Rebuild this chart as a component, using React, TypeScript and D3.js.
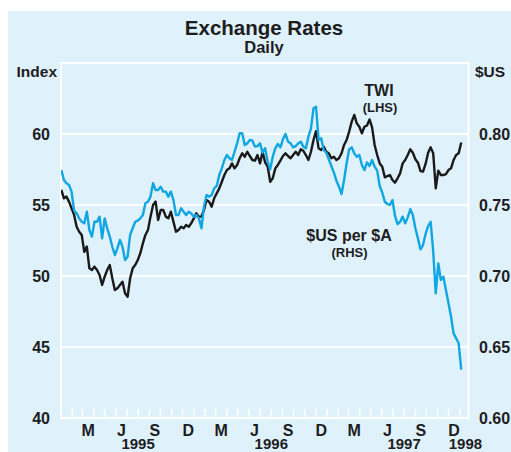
import React from "react";
import * as d3 from "d3";

// ---- Data (weekly samples, starting Mon 2 Jan 1995) ----
const seriesStart = "1995-01-02";

const twi = [
  56.06, 55.47, 55.59, 55.24, 54.77, 54.3, 53.47, 53.12, 52.89, 51.7,
  52.07, 50.54, 50.42, 50.66, 50.42, 50.07, 49.37, 49.95, 50.42, 50.77,
  49.84, 49.01, 49.13, 49.37, 49.6, 48.78, 48.54, 49.84, 50.54, 50.77,
  51.13, 51.6, 52.3, 52.89, 53.24, 54.18, 55.0, 55.24, 53.94, 54.65,
  54.65, 54.18, 54.06, 54.53, 53.83, 53.12, 53.24, 53.47, 53.36, 53.59,
  53.47, 53.71, 54.06, 54.41, 54.18, 54.18, 54.65, 55.35, 55.23, 54.88,
  55.47, 55.82, 56.17, 56.64, 57.11, 57.46, 57.58, 57.93, 57.58, 57.82,
  58.29, 58.64, 58.4, 58.75, 58.45, 58.17, 58.12, 58.52, 57.93, 58.75,
  58.0, 57.7, 56.64, 56.88, 57.58, 57.82, 58.12, 58.45, 58.64, 58.45,
  58.29, 58.52, 58.75, 58.52, 58.92, 58.82, 58.52, 58.17, 58.75, 59.58,
  60.2, 58.99, 58.87, 59.11, 58.75, 58.64, 58.29, 58.4, 58.17, 58.29,
  58.64, 59.23, 59.58, 60.17, 60.87, 61.34, 60.75, 60.51, 60.05, 60.51,
  60.6, 61.03, 60.47, 59.23, 58.52, 57.93, 57.7, 56.95, 57.04, 57.11,
  56.76, 56.57, 56.88, 57.23, 57.93, 58.17, 58.52, 58.92, 58.68, 58.22,
  57.98, 57.39, 57.35, 57.89, 58.68, 59.06, 58.64, 56.17, 57.42, 57.11,
  57.11, 57.18, 57.46, 57.58, 58.17, 58.52, 58.64, 59.4,
];

const usdPerAud = [
  0.7746, 0.7676, 0.7653, 0.7641, 0.7594, 0.746, 0.7441, 0.7406, 0.7382, 0.7371,
  0.7453, 0.7324, 0.7277, 0.7382, 0.7382, 0.7418, 0.7265, 0.7406, 0.7336, 0.7277,
  0.7206, 0.7148, 0.7195, 0.7254, 0.7206, 0.7113, 0.7136, 0.7289, 0.7336, 0.7382,
  0.739, 0.7406, 0.743, 0.7512, 0.7523, 0.7559, 0.7653, 0.7606, 0.7606, 0.7629,
  0.7594, 0.7594, 0.7559, 0.7594, 0.7535, 0.743, 0.743, 0.7477, 0.7453, 0.743,
  0.7453, 0.7441, 0.7418, 0.743, 0.7406, 0.7336, 0.7488, 0.757, 0.7559, 0.757,
  0.7617, 0.7634, 0.7711, 0.7758, 0.7817, 0.7852, 0.7829, 0.7817, 0.7875, 0.7934,
  0.8005, 0.8005, 0.7923, 0.7934, 0.7958, 0.7953, 0.7911, 0.7915, 0.7934, 0.7868,
  0.79, 0.7805, 0.7751, 0.784, 0.7899, 0.793, 0.7906, 0.7963, 0.8, 0.7946,
  0.7934, 0.7906, 0.7915, 0.7934, 0.7946, 0.7911, 0.7899, 0.7981, 0.804, 0.8181,
  0.8192, 0.7958, 0.797, 0.7887, 0.7868, 0.7822, 0.7775, 0.7728, 0.7671, 0.7629,
  0.7577, 0.7676, 0.7794, 0.7892, 0.7906, 0.7864, 0.784, 0.7852, 0.7782, 0.7746,
  0.78, 0.7775, 0.7817, 0.777, 0.7742, 0.7634, 0.7587, 0.7523, 0.7507, 0.75,
  0.7535, 0.7423, 0.7366, 0.7382, 0.7418, 0.7371, 0.7413, 0.747, 0.743, 0.7336,
  0.7265, 0.7188, 0.7218, 0.7296, 0.7352, 0.7382, 0.7171, 0.6878, 0.7089, 0.6972,
  0.6995, 0.6901, 0.6808, 0.6713, 0.6596, 0.6561, 0.6526, 0.634,
];

const leftTicks = [40, 45, 50, 55, 60];
const rightTicks = [0.6, 0.65, 0.7, 0.75, 0.8];
const quarterLabels: Record<number, string> = { 2: "M", 5: "J", 8: "S", 11: "D" };
const yearLabels = ["1995", "1996", "1997", "1998"];

const domainStart = new Date(1995, 0, 1);
const domainEnd = new Date(1998, 0, 25);

const W = 511;
const H = 452;
const M = { left: 61, right: 468.5, top: 63, bottom: 418 };

const FONT = "'Liberation Sans', Arial, Helvetica, sans-serif";
const TEXT = "#1d1d1f";
const BG = "#dff1fa";
const BLUE = "#10a6e2";
const BLACK = "#1a1a1a";

export default function App() {
  const x = d3.scaleTime().domain([domainStart, domainEnd]).range([M.left, M.right]);
  const yL = d3.scaleLinear().domain([40, 65]).range([M.bottom, M.top]);
  const yR = d3.scaleLinear().domain([0.6, 0.85]).range([M.bottom, M.top]);

  const start = d3.timeParse("%Y-%m-%d")(seriesStart) as Date;
  const dates = twi.map((_, i) => d3.timeDay.offset(start, 7 * i));

  const twiLine = d3
    .line<number>()
    .x((_, i) => x(dates[i]))
    .y((d) => yL(d))(twi);
  const usdLine = d3
    .line<number>()
    .x((_, i) => x(dates[i]))
    .y((d) => yR(d))(usdPerAud);

  const monthTicks = d3.timeMonth.range(d3.timeMonth.offset(domainStart, 1), domainEnd);
  const months = d3.timeMonth.range(domainStart, domainEnd);
  const monthCenter = (m: Date) => (x(m) + x(d3.timeMonth.offset(m, 1))) / 2;
  const qLabels = months
    .filter((m) => quarterLabels[m.getMonth()] !== undefined)
    .map((m) => ({ t: quarterLabels[m.getMonth()], cx: monthCenter(m), y: m.getFullYear() }));

  const yearPos = yearLabels.map((yl) => {
    const yr = +yl;
    const qs = qLabels.filter((q) => q.y === yr);
    if (qs.length) return { t: yl, cx: (qs[0].cx + qs[qs.length - 1].cx) / 2 };
    const ms = months.filter((m) => m.getFullYear() === yr);
    return { t: yl, cx: (monthCenter(ms[0]) + monthCenter(ms[ms.length - 1])) / 2 };
  });

  return (
    <svg
      width={W}
      height={H}
      style={{ position: "absolute", left: 0, top: 0, display: "block" }}
      fontFamily={FONT}
      fontWeight="bold"
    >
      <rect x={0} y={0} width={W} height={H} fill="#ffffff" />
      <rect x={8} y={11} width={W - 8} height={H - 11} fill={BG} />

      <text x={264} y={34.5} textAnchor="middle" fontSize={20.5} fill={TEXT}>
        Exchange Rates
      </text>
      <text x={264} y={52.5} textAnchor="middle" fontSize={16.5} fill={TEXT}>
        Daily
      </text>

      {/* gridlines */}
      {leftTicks.slice(1).map((t) => (
        <line key={t} x1={M.left} x2={M.right} y1={yL(t)} y2={yL(t)} stroke="#ffffff" strokeWidth={2} />
      ))}

      {/* month ticks */}
      {monthTicks.map((m, i) => (
        <line key={i} x1={x(m)} x2={x(m)} y1={M.bottom} y2={M.bottom - 9} stroke="#ffffff" strokeWidth={1.6} />
      ))}

      {/* frame */}
      <rect
        x={M.left}
        y={M.top}
        width={M.right - M.left}
        height={M.bottom - M.top}
        fill="none"
        stroke="#ffffff"
        strokeWidth={2}
      />

      <defs>
        <clipPath id="plotClip">
          <rect x={M.left} y={M.top} width={M.right - M.left} height={M.bottom - M.top} />
        </clipPath>
      </defs>

      <g clipPath="url(#plotClip)">
        <path d={twiLine || ""} fill="none" stroke={BLACK} strokeWidth={2.4} strokeLinejoin="round" />
        <path d={usdLine || ""} fill="none" stroke={BLUE} strokeWidth={2.4} strokeLinejoin="round" />
      </g>

      {/* axis labels */}
      {leftTicks.map((t) => (
        <text key={t} x={50} y={yL(t) + 5.8} textAnchor="end" fontSize={16} fill={TEXT}>
          {t}
        </text>
      ))}
      {rightTicks.map((t) => (
        <text key={t} x={479} y={yR(t) + 5.8} textAnchor="start" fontSize={16} fill={TEXT}>
          {d3.format(".2f")(t)}
        </text>
      ))}
      <text x={57} y={77} textAnchor="end" fontSize={15.5} fill={TEXT}>
        Index
      </text>
      <text x={475} y={77} textAnchor="start" fontSize={15.5} fill={TEXT}>
        $US
      </text>

      {qLabels.map((q, i) => (
        <text key={i} x={q.cx} y={436} textAnchor="middle" fontSize={16} fill={TEXT}>
          {q.t}
        </text>
      ))}
      {yearPos.map((yp) => (
        <text key={yp.t} x={yp.cx} y={449} textAnchor="middle" fontSize={15} fill={TEXT}>
          {yp.t}
        </text>
      ))}

      {/* series labels */}
      <text x={379} y={95.5} textAnchor="middle" fontSize={16} fill={TEXT}>
        TWI
      </text>
      <text x={380} y={111.5} textAnchor="middle" fontSize={13} fill={TEXT}>
        (LHS)
      </text>
      <text x={349} y={241} textAnchor="middle" fontSize={16} fill={TEXT}>
        $US per $A
      </text>
      <text x={349.5} y={257} textAnchor="middle" fontSize={13} fill={TEXT}>
        (RHS)
      </text>
    </svg>
  );
}
